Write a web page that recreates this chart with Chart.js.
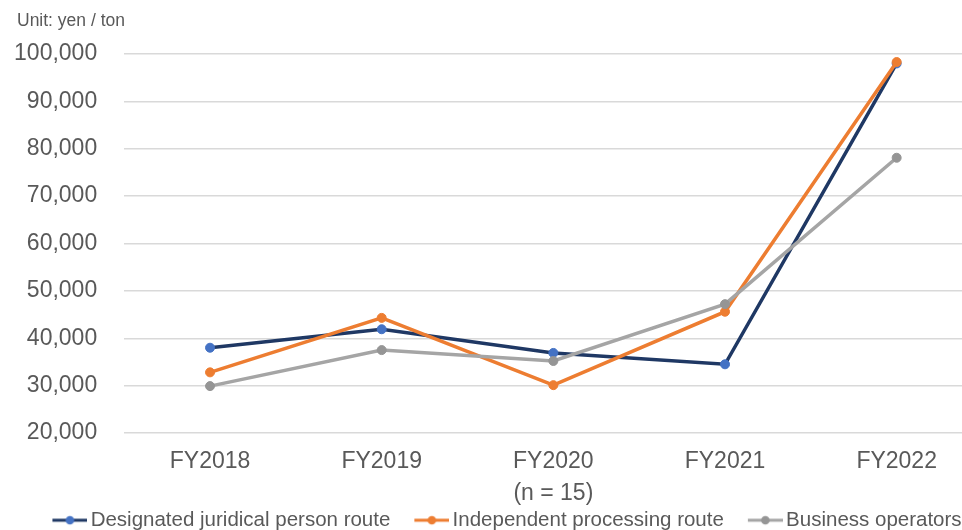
<!DOCTYPE html>
<html>
<head>
<meta charset="utf-8">
<script src="https://cdn.jsdelivr.net/npm/chart.js@4"></script>
<style>
  html, body { margin: 0; padding: 0; background: #fff; overflow: hidden; }
  #wrap { width: 990px; height: 541px; }
</style>
</head>
<body>
<div id="wrap"><canvas id="priceChart" width="990" height="541"></canvas></div>
<script>
const categories = [
    'FY2018',
    'FY2019',
    ['FY2020', '(n = 15)'],
    'FY2021',
    'FY2022'
];
const designatedRoute = [38000, 41900, 36900, 34500, 98000];
const independentRoute = [32800, 44300, 30100, 45600, 98300];
const businessOperators = [29900, 37500, 35200, 47200, 78100];
const seriesNames = ['Designated juridical person route', 'Independent processing route', 'Business operators'];
const unitLabel = 'Unit: yen / ton';

const textGray = '#595959';
const fontFamily = '"Liberation Sans", Arial, sans-serif';

// line + dot swatch for the legend (left part left empty so spacing matches)
function legendSwatch(lineColor, dotColor) {
    const c = document.createElement('canvas');
    c.width = 66;
    c.height = 12;
    const ctx = c.getContext('2d');
    ctx.strokeStyle = lineColor;
    ctx.lineWidth = 3;
    ctx.beginPath();
    ctx.moveTo(31, 6);
    ctx.lineTo(66, 6);
    ctx.stroke();
    ctx.fillStyle = dotColor;
    ctx.beginPath();
    ctx.arc(48.5, 6, 4.3, 0, Math.PI * 2);
    ctx.fill();
    return c;
}

// "Unit: yen / ton" sits in the top-left corner, outside the plot
const unitText = {
    id: 'unitText',
    afterDraw(chart) {
        const ctx = chart.ctx;
        ctx.save();
        ctx.font = '17.5px ' + fontFamily;
        ctx.fillStyle = textGray;
        ctx.textAlign = 'left';
        ctx.textBaseline = 'middle';
        ctx.fillText(unitLabel, 17, 21);
        ctx.restore();
    }
};

const datasets = [
    {
        label: seriesNames[0],
        data: designatedRoute,
        borderColor: '#1F3864',
        pointBackgroundColor: '#4472C4',
        pointBorderColor: '#4472C4',
        order: 3
    },
    {
        label: seriesNames[1],
        data: independentRoute,
        borderColor: '#ED7D31',
        pointBackgroundColor: '#ED7D31',
        pointBorderColor: '#ED7D31',
        order: 2
    },
    {
        label: seriesNames[2],
        data: businessOperators,
        borderColor: '#A5A5A5',
        pointBackgroundColor: '#959595',
        pointBorderColor: '#959595',
        order: 1
    }
].map(ds => Object.assign({
    borderWidth: 3.5,
    pointRadius: 4.5,
    pointBorderWidth: 1,
    tension: 0,
    fill: false
}, ds));

new Chart(document.getElementById('priceChart'), {
    type: 'line',
    data: { labels: categories, datasets: datasets },
    plugins: [unitText],
    options: {
        responsive: false,
        animation: false,
        layout: { padding: { left: 7.5, right: 7.5, top: 54, bottom: 0.5 } },
        plugins: {
            tooltip: { enabled: false },
            title: { display: false },
            legend: {
                position: 'bottom',
                labels: {
                    usePointStyle: true,
                    pointStyleWidth: 52,
                    padding: 0,
                    color: textGray,
                    font: { family: fontFamily, size: 20.5 },
                    generateLabels: chart => chart.data.datasets.map((ds, i) => ({
                        text: ds.label,
                        fontColor: textGray,
                        pointStyle: legendSwatch(ds.borderColor, ds.pointBackgroundColor),
                        datasetIndex: i,
                        hidden: false,
                        lineWidth: 0
                    }))
                }
            }
        },
        scales: {
            x: {
                offset: true,
                grid: { display: false, drawTicks: false },
                border: { display: false },
                ticks: {
                    color: textGray,
                    padding: 12,
                    maxRotation: 0,
                    autoSkip: false,
                    font: { family: fontFamily, size: 23, lineHeight: 1.42 }
                },
                afterFit: scale => { scale.height = 77; }
            },
            y: {
                min: 20000,
                max: 100000,
                border: { display: false },
                grid: { color: '#D9D9D9', lineWidth: 1.5, drawTicks: false },
                ticks: {
                    stepSize: 10000,
                    padding: 27,
                    color: textGray,
                    font: { family: fontFamily, size: 23 },
                    callback: v => v.toLocaleString('en-US')
                },
                afterFit: scale => { scale.width = 116.7; }
            }
        }
    }
});
</script>
</body>
</html>
